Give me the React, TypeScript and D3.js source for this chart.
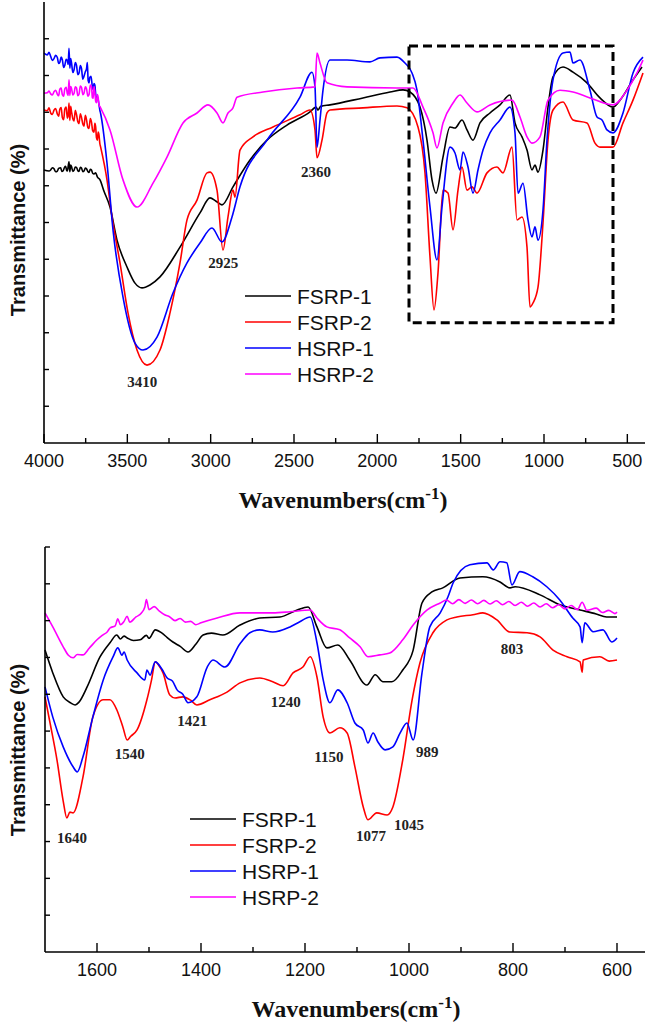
import React from "react";
import * as d3 from "d3";

type Pt = [number, number];

// ---------- Series names & colours ----------
const seriesNames = ["FSRP-1", "FSRP-2", "HSRP-1", "HSRP-2"];
const seriesColors = ["#000000", "#ff0000", "#0000ff", "#ff00ff"];

// ---------- Top panel (4000-400 cm-1), wavenumber vs transmittance (a.u.) ----------
const topFSRP1: Pt[] = [[4000,74.3],[3970,74.0],[3960,74.3],[3950,74.9],[3940,74.6],[3930,73.8],[3920,74.0],[3912,74.7],[3900,74.9],[3893,73.9],[3885,74.1],[3877,75.0],[3870,75.3],[3865,74.3],[3860,74.0],[3850,76.5],[3845,73.8],[3840,75.6],[3835,75.2],[3827,73.9],[3820,74.2],[3812,75.1],[3805,75.0],[3797,74.1],[3790,73.9],[3782,75.0],[3775,74.8],[3767,73.8],[3760,74.0],[3752,74.8],[3745,74.6],[3737,73.9],[3730,73.6],[3722,74.5],[3715,74.3],[3708,73.4],[3700,73.2],[3690,73.5],[3680,72.4],[3664,71.6],[3640,68.5],[3604,64.2],[3562,55.2],[3502,47.9],[3454,43.5],[3412,42.2],[3364,43.0],[3304,45.2],[3184,53.3],[3064,62.6],[3004,66.7],[2968,65.8],[2932,64.8],[2866,69.7],[2764,77.0],[2662,82.4],[2542,86.5],[2404,90.1],[2368,91.4],[2356,90.6],[2340,91.6],[2284,92.0],[2086,93.9],[1924,95.5],[1846,96.1],[1804,95.5],[1744,91.4],[1702,82.4],[1672,71.6],[1648,68.0],[1606,77.8],[1564,86.0],[1534,85.7],[1492,87.9],[1462,85.2],[1426,82.4],[1384,87.1],[1324,89.8],[1264,92.0],[1204,94.7],[1174,87.1],[1132,83.3],[1102,79.7],[1072,74.3],[1054,75.6],[1036,73.7],[1006,79.7],[976,91.4],[946,99.6],[886,102.3],[826,100.9],[742,98.0],[664,93.9],[586,91.4],[544,93.3],[466,98.8],[412,102.3]];
const topFSRP2: Pt[] = [[4000,90.6],[3980,90.4],[3970,91.2],[3960,89.8],[3950,89.4],[3940,90.6],[3930,91.0],[3920,89.5],[3912,88.9],[3905,90.8],[3897,91.3],[3890,88.6],[3882,88.0],[3875,90.9],[3867,91.4],[3860,88.4],[3855,89.0],[3850,92.5],[3845,87.8],[3840,91.6],[3835,90.2],[3827,88.2],[3820,87.6],[3812,90.5],[3805,89.4],[3797,87.4],[3790,86.9],[3782,89.6],[3775,88.6],[3767,86.8],[3760,86.2],[3752,89.2],[3745,88.0],[3737,85.9],[3730,85.6],[3722,88.3],[3715,87.3],[3708,85.0],[3700,84.6],[3695,87.0],[3690,86.0],[3685,83.0],[3680,82.4],[3675,84.6],[3670,83.8],[3665,81.5],[3660,80.5],[3622,71.6],[3592,61.5],[3544,49.0],[3496,35.4],[3442,25.3],[3382,21.2],[3304,25.3],[3244,35.4],[3184,49.0],[3142,60.7],[3082,66.1],[3022,73.5],[3004,73.7],[2962,68.8],[2926,52.5],[2896,61.5],[2866,68.8],[2854,66.9],[2824,79.7],[2746,83.3],[2626,86.0],[2464,89.3],[2404,90.6],[2374,85.2],[2362,77.6],[2332,82.4],[2302,89.8],[2284,90.6],[2086,91.2],[1882,91.7],[1822,91.2],[1756,86.0],[1714,73.5],[1684,50.6],[1660,36.2],[1636,46.3],[1606,68.8],[1576,68.0],[1546,58.0],[1516,68.8],[1492,75.1],[1462,68.8],[1432,69.7],[1402,68.0],[1342,73.5],[1282,75.1],[1246,73.5],[1192,80.5],[1162,60.7],[1132,61.5],[1102,53.3],[1084,37.0],[1066,38.1],[1036,42.4],[1006,59.9],[976,82.4],[946,90.6],[886,92.8],[826,87.9],[742,87.1],[694,81.6],[664,80.5],[586,80.5],[526,87.1],[466,93.3],[406,100.7]];
const topHSRP1: Pt[] = [[4000,106.1],[3980,105.6],[3970,106.3],[3960,105.2],[3950,104.1],[3940,104.6],[3930,105.5],[3920,104.9],[3912,103.3],[3905,103.6],[3897,105.0],[3890,104.3],[3882,102.2],[3875,102.8],[3867,104.4],[3860,104.0],[3855,103.0],[3850,107.4],[3845,102.0],[3840,104.6],[3835,103.5],[3827,100.8],[3820,101.5],[3812,103.5],[3805,102.8],[3797,100.2],[3790,100.6],[3782,102.7],[3775,101.9],[3767,99.0],[3760,99.8],[3752,101.0],[3745,101.8],[3740,103.5],[3735,98.6],[3730,98.0],[3725,99.5],[3718,99.8],[3710,97.0],[3705,96.2],[3700,97.8],[3695,97.4],[3690,95.0],[3685,93.5],[3680,94.2],[3675,93.4],[3670,92.0],[3665,90.6],[3660,89.6],[3622,76.2],[3586,58.0],[3526,39.7],[3454,27.2],[3406,25.3],[3322,28.8],[3226,40.8],[3142,49.0],[3064,54.4],[2992,58.5],[2932,54.7],[2872,61.5],[2824,69.7],[2662,82.4],[2464,94.1],[2392,100.9],[2374,96.9],[2362,80.5],[2344,87.9],[2326,96.0],[2284,104.2],[2182,104.2],[2044,103.7],[1984,104.8],[1882,105.0],[1834,103.4],[1792,100.7],[1762,96.0],[1726,82.4],[1684,64.2],[1642,49.8],[1612,64.2],[1564,80.5],[1534,78.9],[1504,74.3],[1486,79.2],[1456,75.1],[1426,68.0],[1396,74.3],[1366,79.7],[1324,84.4],[1264,87.9],[1204,91.4],[1174,84.4],[1156,68.0],[1126,70.7],[1096,60.7],[1072,56.1],[1054,58.8],[1036,55.2],[1006,63.4],[982,82.4],[946,98.8],[886,106.1],[844,106.4],[826,103.4],[784,104.2],[724,96.0],[682,88.7],[652,87.9],[622,85.2],[586,84.4],[526,89.8],[466,100.7],[406,105.0]];
const topHSRP2: Pt[] = [[4000,95.2],[3980,95.3],[3970,95.8],[3960,95.0],[3950,94.7],[3940,95.6],[3930,96.0],[3920,94.9],[3912,94.5],[3905,96.3],[3897,96.6],[3890,94.8],[3882,94.4],[3875,96.4],[3867,96.8],[3860,95.0],[3855,94.6],[3850,98.8],[3845,94.6],[3840,97.0],[3835,96.5],[3827,94.7],[3820,95.1],[3812,96.9],[3805,96.6],[3797,94.5],[3790,94.9],[3782,97.1],[3775,96.8],[3767,94.8],[3760,95.2],[3752,96.9],[3745,96.4],[3737,94.4],[3730,94.8],[3722,97.4],[3715,97.0],[3710,94.0],[3705,93.8],[3700,97.0],[3695,95.6],[3690,93.0],[3685,92.6],[3680,94.8],[3675,94.0],[3670,92.0],[3664,91.5],[3604,85.2],[3526,71.6],[3442,64.2],[3346,70.7],[3262,77.8],[3166,87.1],[3082,89.8],[3016,92.0],[2962,89.8],[2926,87.1],[2896,89.8],[2866,91.2],[2842,94.1],[2686,95.5],[2482,96.6],[2374,96.9],[2362,106.1],[2344,103.4],[2302,98.0],[2182,96.9],[1882,96.6],[1786,96.6],[1726,91.4],[1666,84.4],[1642,80.3],[1606,87.1],[1546,92.5],[1504,94.7],[1462,92.5],[1402,90.1],[1324,92.0],[1192,93.3],[1144,88.7],[1102,83.3],[1072,81.6],[1024,83.3],[976,93.3],[904,96.0],[826,95.5],[724,93.9],[586,92.0],[502,96.0],[442,100.7],[406,104.2]];

// ---------- Bottom panel (1700-550 cm-1) ----------
const botFSRP1: Pt[] = [[1700,82.0],[1685,75.8],[1665,69.3],[1650,67.6],[1642,67.1],[1635,67.8],[1619,72.0],[1594,80.2],[1575,84.0],[1562,86.1],[1555,85.0],[1548,85.8],[1542,85.3],[1530,84.6],[1517,84.8],[1505,86.0],[1500,85.2],[1488,87.5],[1475,86.6],[1465,85.4],[1454,84.2],[1440,83.0],[1425,81.5],[1410,83.6],[1396,86.1],[1380,86.6],[1358,86.1],[1325,88.8],[1287,90.7],[1248,91.0],[1215,92.9],[1194,93.7],[1177,88.3],[1158,82.6],[1137,83.4],[1114,79.3],[1081,72.5],[1065,75.3],[1050,73.4],[1033,73.4],[1012,76.6],[992,82.0],[975,94.8],[956,97.8],[935,98.9],[902,101.6],[858,101.9],[825,100.5],[806,98.9],[796,99.2],[748,97.0],[710,94.3],[671,92.9],[640,91.8],[620,91.0],[600,91.0]];
const botFSRP2: Pt[] = [[1700,69.3],[1690,62.0],[1677,52.2],[1665,41.0],[1658,36.4],[1652,38.0],[1646,37.8],[1627,47.5],[1608,63.8],[1588,68.5],[1575,68.5],[1562,65.8],[1550,61.0],[1542,57.6],[1535,58.6],[1523,60.3],[1504,68.5],[1495,74.0],[1488,78.8],[1480,77.6],[1473,75.8],[1460,69.8],[1450,69.0],[1435,69.3],[1420,68.4],[1408,67.1],[1383,68.5],[1350,70.6],[1325,73.1],[1287,74.4],[1262,73.4],[1242,72.3],[1223,75.8],[1204,77.4],[1190,80.2],[1177,74.7],[1165,63.8],[1152,59.5],[1133,60.9],[1119,59.5],[1104,50.3],[1088,39.4],[1079,35.9],[1062,37.8],[1042,37.2],[1031,39.4],[1012,52.2],[994,68.5],[979,78.5],[954,86.7],[927,90.2],[908,91.0],[877,91.6],[858,92.1],[831,90.2],[806,86.9],[773,86.7],[748,85.6],[723,82.0],[696,80.2],[671,78.8],[667,76.0],[665,79.3],[633,80.2],[615,79.0],[600,79.3]];
const botHSRP1: Pt[] = [[1700,72.0],[1685,63.8],[1665,55.7],[1646,50.3],[1638,48.9],[1627,53.0],[1608,63.8],[1588,73.9],[1569,80.2],[1560,82.6],[1552,80.6],[1548,81.5],[1542,79.3],[1523,75.8],[1508,73.9],[1504,76.6],[1498,75.2],[1488,78.8],[1475,76.8],[1465,74.4],[1455,73.6],[1446,71.2],[1435,70.0],[1425,67.7],[1408,69.3],[1388,77.4],[1377,79.3],[1354,77.4],[1325,83.7],[1306,86.7],[1287,87.5],[1262,86.9],[1229,88.3],[1210,89.7],[1190,91.0],[1177,84.0],[1165,73.9],[1152,67.7],[1137,71.2],[1119,67.7],[1104,62.2],[1088,60.3],[1079,56.8],[1069,59.5],[1060,57.1],[1046,54.9],[1031,55.7],[1017,59.5],[1004,62.2],[992,57.6],[975,75.8],[960,88.3],[940,92.1],[925,96.5],[915,100.3],[883,105.2],[850,105.7],[838,103.8],[825,106.0],[812,105.7],[802,99.7],[787,103.3],[762,101.9],[735,99.2],[710,95.6],[685,90.7],[671,88.3],[667,84.0],[662,89.4],[646,87.0],[627,87.5],[610,84.2],[600,85.3]];
const botHSRP2: Pt[] = [[1700,92.1],[1685,88.3],[1665,82.9],[1655,80.6],[1646,79.9],[1638,80.8],[1627,80.7],[1615,82.5],[1600,84.8],[1590,86.0],[1580,87.0],[1575,88.0],[1565,88.6],[1560,90.5],[1555,88.9],[1548,89.8],[1542,91.2],[1537,89.6],[1525,91.0],[1515,92.0],[1508,93.7],[1505,95.7],[1500,93.0],[1490,93.8],[1480,92.6],[1470,91.6],[1460,91.0],[1450,90.0],[1440,90.6],[1430,89.6],[1420,89.8],[1410,88.9],[1400,89.4],[1369,90.7],[1325,92.1],[1262,92.1],[1229,92.4],[1190,92.9],[1177,90.7],[1158,88.3],[1133,87.5],[1114,85.3],[1094,82.9],[1079,80.2],[1056,80.7],[1037,81.2],[1012,84.8],[992,88.8],[965,92.9],[940,94.8],[928,95.6],[916,94.6],[904,95.7],[892,94.7],[880,95.6],[868,94.6],[856,95.5],[844,94.5],[832,95.4],[820,94.3],[808,95.2],[796,94.1],[784,95.0],[772,93.9],[760,94.8],[748,93.7],[736,94.6],[724,93.5],[712,94.3],[700,93.2],[688,94.1],[676,93.0],[667,95.0],[658,92.8],[640,93.4],[628,92.2],[616,92.8],[604,91.9],[600,92.3]];

// ---------- Ticks ----------
const topMajorTicks = [4000, 3500, 3000, 2500, 2000, 1500, 1000, 500];
const topMinorTicks = [3750, 3250, 2750, 2250, 1750, 1250, 750];
const botMajorTicks = [1600, 1400, 1200, 1000, 800, 600];
const botMinorTicks = [1500, 1300, 1100, 900, 700];
const topYTicks = [10, 20, 30, 40, 50, 60, 70, 80, 90, 100, 110];
const botYTicks = [10, 20, 30, 40, 50, 60, 70, 80, 90, 100, 110];

// ---------- Peak annotations (wavenumber, transmittance of label baseline) ----------
const topPeakLabels = ["3410", "2925", "2360"];
const topPeakWn = [3410, 2925, 2368];
const topPeakV = [15.2, 47.6, 72.4];
const botPeakLabels = ["1640", "1540", "1421", "1240", "1150", "989", "1077", "1045", "803"];
const botPeakWn = [1648, 1537, 1417, 1237, 1154, 965, 1073, 1000, 802];
const botPeakV = [29.6, 52.4, 61.4, 66.6, 51.6, 53.0, 30.2, 33.2, 81.0];

// Highlighted region in top panel
const boxWn = [1810, 586];
const boxV = [32.7, 108.0];

const SANS = "'Liberation Sans', Arial, sans-serif";
const SERIF = "'Liberation Serif', 'Times New Roman', serif";

type PanelProps = {
  series: Pt[][];
  xDomain: [number, number];
  xRange: [number, number];
  yDomain: [number, number];
  yRange: [number, number];
  major: number[];
  minor: number[];
  yTicks: number[];
  peakLabels: string[];
  peakWn: number[];
  peakV: number[];
  legendX: number;
  legendY: number;
  titleX: number;
  ylabelY: number;
  box?: boolean;
};

function Panel(p: PanelProps) {
  const x = d3.scaleLinear().domain(p.xDomain).range(p.xRange);
  const y = d3.scaleLinear().domain(p.yDomain).range(p.yRange);
  const line = d3
    .line<Pt>()
    .x((d) => x(d[0]))
    .y((d) => y(d[1]))
    .curve(d3.curveMonotoneX);
  const x0 = p.xRange[0];
  const x1 = 645;
  const yb = p.yRange[0];
  const yt = p.yRange[1];
  return (
    <g>
      {p.series.map((s, i) => (
        <path
          key={i}
          d={line(s.slice().sort((a, b) => b[0] - a[0])) || ""}
          fill="none"
          stroke={seriesColors[i]}
          strokeWidth={1.6}
          strokeLinejoin="round"
        />
      ))}
      {p.box && (
        <rect
          x={x(boxWn[0])}
          y={y(boxV[1])}
          width={x(boxWn[1]) - x(boxWn[0])}
          height={y(boxV[0]) - y(boxV[1])}
          fill="none"
          stroke="#000"
          strokeWidth={3}
          strokeDasharray="9,5"
        />
      )}
      {/* axes */}
      <line x1={x0} x2={x0} y1={yt} y2={yb} stroke="#000" strokeWidth={1.6} />
      <line x1={x0} x2={x1} y1={yb} y2={yb} stroke="#000" strokeWidth={1.6} />
      {p.yTicks.map((t) => (
        <line key={"y" + t} x1={x0} x2={x0 + 5} y1={y(t)} y2={y(t)} stroke="#000" strokeWidth={1.4} />
      ))}
      {p.major.map((t) => (
        <g key={"M" + t}>
          <line x1={x(t)} x2={x(t)} y1={yb} y2={yb - 9} stroke="#000" strokeWidth={1.4} />
          <text x={x(t)} y={yb + 24} textAnchor="middle" fontFamily={SANS} fontSize={18} fill="#111">
            {t}
          </text>
        </g>
      ))}
      {p.minor.map((t) => (
        <line key={"m" + t} x1={x(t)} x2={x(t)} y1={yb} y2={yb - 5} stroke="#000" strokeWidth={1.4} />
      ))}
      {/* peak labels */}
      {p.peakLabels.map((l, i) => (
        <text key={"p" + i} x={x(p.peakWn[i])} y={y(p.peakV[i])} textAnchor="middle" fontFamily={SERIF} fontWeight="bold" fontSize={15} fill="#222">
          {l}
        </text>
      ))}
      {/* legend */}
      {seriesNames.map((n, i) => (
        <g key={n}>
          <line x1={p.legendX} x2={p.legendX + 46} y1={p.legendY + i * 26} y2={p.legendY + i * 26} stroke={seriesColors[i]} strokeWidth={1.6} />
          <text x={p.legendX + 52} y={p.legendY + i * 26 + 7.5} fontFamily={SANS} fontSize={21} fill="#111">
            {n}
          </text>
        </g>
      ))}
      {/* titles */}
      <text x={p.titleX} y={yb + 65} textAnchor="middle" fontFamily={SERIF} fontWeight="bold" fontSize={24} fill="#111">
        <tspan>Wavenumbers(cm</tspan>
        <tspan dy={-9} fontSize={17}>-1</tspan>
        <tspan dy={9}>)</tspan>
      </text>
      <text
        transform={`translate(25,${p.ylabelY}) rotate(-90)`}
        textAnchor="middle"
        fontFamily={SANS}
        fontWeight="bold"
        fontSize={20}
        fill="#111"
      >
        Transmittance (%)
      </text>
    </g>
  );
}

export default function App() {
  return (
    <svg
      width={645}
      height={1025}
      viewBox="0 0 645 1025"
      style={{ position: "absolute", left: 0, top: 0, background: "#fff" }}
    >
      <rect x={0} y={0} width={645} height={1025} fill="#fff" />
      <Panel
        series={[topFSRP1, topFSRP2, topHSRP1, topHSRP2]}
        xDomain={[4000, 400]}
        xRange={[44, 644]}
        yDomain={[0, 120]}
        yRange={[443, 2]}
        major={topMajorTicks}
        minor={topMinorTicks}
        yTicks={topYTicks}
        peakLabels={topPeakLabels}
        peakWn={topPeakWn}
        peakV={topPeakV}
        legendX={245}
        legendY={296}
        titleX={343}
        ylabelY={230}
        box
      />
      <Panel
        series={[botFSRP1, botFSRP2, botHSRP1, botHSRP2]}
        xDomain={[1700, 550]}
        xRange={[45, 643]}
        yDomain={[0, 110]}
        yRange={[952, 547]}
        major={botMajorTicks}
        minor={botMinorTicks}
        yTicks={botYTicks}
        peakLabels={botPeakLabels}
        peakWn={botPeakWn}
        peakV={botPeakV}
        legendX={190}
        legendY={819}
        titleX={356}
        ylabelY={750}
      />
    </svg>
  );
}
